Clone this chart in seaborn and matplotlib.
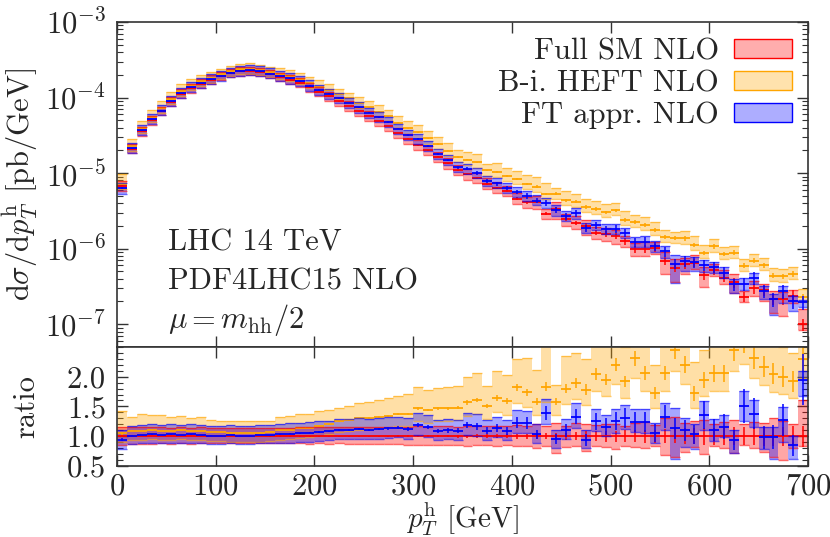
import numpy as np
import matplotlib
matplotlib.use("Agg")
import matplotlib.pyplot as plt
from matplotlib.patches import Patch
from matplotlib.ticker import LogLocator, MultipleLocator, NullFormatter, FormatStrFormatter
import seaborn as sns

# bins of 10 GeV in pT^h
bin_edges = np.arange(0, 700, 10)

# Full SM NLO central value [pb/GeV]
sm = [6.8e-6, 2.1e-5, 3.6e-5, 5.0e-5, 6.6e-5, 8.8e-5, 1.12e-4, 1.34e-4, 1.53e-4, 1.72e-4,
      1.92e-4, 2.10e-4, 2.22e-4, 2.26e-4, 2.18e-4, 2.04e-4, 1.88e-4, 1.72e-4, 1.56e-4, 1.36e-4,
      1.19e-4, 1.04e-4, 8.9e-5, 7.7e-5, 6.6e-5, 5.7e-5, 4.9e-5, 4.2e-5, 3.4e-5, 2.85e-5,
      2.35e-5, 2.0e-5, 1.65e-5, 1.35e-5, 1.1e-5, 9.6e-6, 8.6e-6, 7.2e-6, 6.4e-6, 5.8e-6,
      4.6e-6, 4.1e-6, 4.2e-6, 2.9e-6, 3.4e-6, 2.45e-6, 2.2e-6, 2.0e-6, 1.63e-6, 1.55e-6,
      1.47e-6, 1.25e-6, 9.8e-7, 1.0e-6, 1.03e-6, 6.9e-7, 5.6e-7, 6.2e-7, 6.5e-7, 4.5e-7,
      5.2e-7, 4.15e-7, 3.6e-7, 2.3e-7, 3.0e-7, 2.8e-7, 2.15e-7, 2.15e-7, 2.4e-7, 1.0e-7]

# scale bands and stat errors, all relative to the Full SM central value
sm_lo = [0.86, 0.87, 0.87, 0.87, 0.88, 0.87, 0.88, 0.87, 0.88, 0.88,
         0.88, 0.88, 0.88, 0.88, 0.88, 0.88, 0.88, 0.88, 0.88, 0.87,
         0.88, 0.87, 0.88, 0.87, 0.87, 0.87, 0.87, 0.87, 0.87, 0.86,
         0.86, 0.86, 0.86, 0.85, 0.86, 0.84, 0.85, 0.85, 0.84, 0.85,
         0.84, 0.84, 0.80, 0.84, 0.72, 0.82, 0.84, 0.75, 0.83, 0.82,
         0.78, 0.84, 0.82, 0.80, 0.83, 0.68, 0.65, 0.74, 0.82, 0.70,
         0.84, 0.81, 0.72, 0.86, 0.80, 0.73, 0.65, 0.60, 0.80, 0.84]
sm_hi = [1.16, 1.15, 1.15, 1.15, 1.15, 1.14, 1.15, 1.14, 1.15, 1.14,
         1.14, 1.14, 1.14, 1.14, 1.14, 1.14, 1.14, 1.14, 1.15, 1.15,
         1.15, 1.15, 1.15, 1.16, 1.15, 1.16, 1.16, 1.16, 1.16, 1.16,
         1.17, 1.16, 1.17, 1.17, 1.16, 1.18, 1.17, 1.18, 1.18, 1.17,
         1.19, 1.18, 1.20, 1.17, 1.22, 1.18, 1.22, 1.20, 1.19, 1.20,
         1.21, 1.18, 1.22, 1.24, 1.19, 1.30, 1.32, 1.22, 1.25, 1.28,
         1.20, 1.24, 1.28, 1.20, 1.24, 1.22, 1.30, 1.25, 1.20, 1.60]
sm_stat = [0.02, 0.005, 0.004, 0.004, 0.004, 0.004, 0.004, 0.004, 0.004, 0.004,
           0.004, 0.004, 0.004, 0.004, 0.004, 0.005, 0.005, 0.005, 0.006, 0.006,
           0.007, 0.007, 0.008, 0.009, 0.01, 0.01, 0.011, 0.012, 0.013, 0.014,
           0.015, 0.016, 0.018, 0.02, 0.022, 0.025, 0.03, 0.03, 0.035, 0.035,
           0.04, 0.045, 0.05, 0.05, 0.06, 0.06, 0.07, 0.08, 0.08, 0.09,
           0.09, 0.10, 0.10, 0.11, 0.11, 0.12, 0.12, 0.13, 0.13, 0.14,
           0.14, 0.14, 0.15, 0.15, 0.15, 0.16, 0.16, 0.16, 0.17, 0.18]

heft_r = [1.05, 1.09, 1.09, 1.10, 1.09, 1.09, 1.10, 1.08, 1.09, 1.07,
          1.07, 1.06, 1.06, 1.06, 1.06, 1.07, 1.10, 1.11, 1.13, 1.14,
          1.17, 1.20, 1.25, 1.27, 1.30, 1.31, 1.33, 1.34, 1.37, 1.37,
          1.47, 1.44, 1.47, 1.47, 1.48, 1.57, 1.61, 1.51, 1.64, 1.59,
          1.82, 1.74, 1.58, 1.83, 1.58, 1.80, 1.89, 1.78, 2.05, 1.95,
          2.20, 1.92, 2.31, 2.06, 1.72, 2.06, 2.45, 2.20, 1.72, 1.95,
          2.06, 2.06, 2.45, 2.60, 2.31, 2.17, 2.05, 2.00, 1.92, 2.30]
heft_lo = [0.90, 0.94, 0.94, 0.95, 0.94, 0.94, 0.95, 0.93, 0.94, 0.92,
           0.92, 0.91, 0.91, 0.91, 0.91, 0.92, 0.94, 0.95, 0.97, 0.98,
           1.00, 1.03, 1.07, 1.09, 1.11, 1.12, 1.14, 1.15, 1.17, 1.17,
           1.26, 1.23, 1.26, 1.26, 1.27, 1.34, 1.38, 1.29, 1.40, 1.36,
           1.56, 1.49, 1.35, 1.57, 1.35, 1.54, 1.62, 1.52, 1.76, 1.67,
           1.88, 1.64, 1.98, 1.76, 1.47, 1.76, 2.10, 1.88, 1.47, 1.67,
           1.76, 1.76, 2.10, 2.22, 1.98, 1.86, 1.75, 1.71, 1.64, 1.97]
heft_hi = [1.42, 1.33, 1.38, 1.35, 1.36, 1.33, 1.34, 1.30, 1.32, 1.27,
           1.26, 1.26, 1.25, 1.25, 1.25, 1.26, 1.33, 1.34, 1.37, 1.38,
           1.42, 1.44, 1.48, 1.50, 1.55, 1.57, 1.61, 1.65, 1.68, 1.71,
           1.83, 1.78, 1.81, 1.83, 1.85, 1.99, 2.06, 1.84, 2.10, 2.03,
           2.29, 2.31, 2.12, 2.55, 1.86, 2.34, 2.40, 2.30, 2.60, 2.55,
           2.70, 2.50, 2.85, 2.60, 2.20, 2.60, 3.00, 2.75, 2.25, 2.45,
           2.60, 2.55, 3.00, 3.20, 2.85, 2.70, 2.55, 2.50, 2.40, 2.90]
heft_stat = [0.02, 0.006, 0.005, 0.005, 0.005, 0.005, 0.005, 0.005, 0.005, 0.005,
             0.005, 0.005, 0.005, 0.005, 0.005, 0.006, 0.006, 0.007, 0.007, 0.008,
             0.008, 0.009, 0.010, 0.010, 0.011, 0.012, 0.013, 0.013, 0.014, 0.015,
             0.016, 0.017, 0.018, 0.019, 0.020, 0.025, 0.025, 0.025, 0.03, 0.03,
             0.035, 0.035, 0.04, 0.04, 0.04, 0.045, 0.045, 0.05, 0.05, 0.05,
             0.05, 0.05, 0.055, 0.06, 0.06, 0.06, 0.06, 0.065, 0.07, 0.07,
             0.07, 0.07, 0.075, 0.08, 0.08, 0.08, 0.085, 0.09, 0.09, 0.09]

ft_r = [0.94, 1.01, 1.02, 1.03, 1.02, 1.03, 1.02, 1.03, 1.02, 1.01,
        1.01, 1.02, 1.01, 1.01, 1.02, 1.02, 1.03, 1.04, 1.05, 1.06,
        1.07, 1.08, 1.10, 1.10, 1.12, 1.10, 1.12, 1.13, 1.14, 1.12,
        1.19, 1.15, 1.09, 1.10, 1.09, 1.19, 1.17, 1.09, 1.14, 1.09,
        1.23, 1.22, 1.03, 1.39, 0.95, 1.10, 1.33, 0.94, 1.25, 1.16,
        1.25, 1.30, 1.24, 1.24, 1.05, 1.33, 1.13, 1.10, 1.03, 1.36,
        1.10, 1.16, 0.94, 1.50, 1.38, 0.98, 0.99, 1.27, 0.85, 1.95]
ft_lo = [0.79, 0.87, 0.88, 0.89, 0.88, 0.89, 0.88, 0.89, 0.88, 0.87,
         0.87, 0.88, 0.87, 0.87, 0.88, 0.88, 0.89, 0.89, 0.90, 0.91,
         0.92, 0.93, 0.95, 0.95, 0.96, 0.95, 0.96, 0.97, 0.98, 0.96,
         1.02, 0.99, 0.94, 0.95, 0.94, 1.02, 1.01, 0.94, 0.98, 0.94,
         1.06, 1.05, 0.89, 1.20, 0.80, 0.95, 1.14, 0.80, 1.08, 1.00,
         1.06, 1.12, 1.07, 1.05, 0.88, 1.10, 0.62, 0.82, 0.78, 1.10,
         0.92, 0.98, 0.72, 1.25, 1.15, 0.78, 0.62, 0.90, 0.62, 1.68]
ft_hi = [1.10, 1.18, 1.19, 1.20, 1.19, 1.20, 1.19, 1.20, 1.19, 1.18,
         1.18, 1.19, 1.18, 1.18, 1.19, 1.19, 1.20, 1.22, 1.23, 1.24,
         1.25, 1.26, 1.29, 1.29, 1.31, 1.29, 1.31, 1.32, 1.33, 1.31,
         1.39, 1.35, 1.28, 1.29, 1.28, 1.39, 1.37, 1.28, 1.33, 1.28,
         1.44, 1.43, 1.21, 1.63, 1.11, 1.29, 1.56, 1.10, 1.46, 1.36,
         1.46, 1.52, 1.45, 1.45, 1.23, 1.56, 1.48, 1.30, 1.21, 1.59,
         1.29, 1.36, 1.10, 1.76, 1.61, 1.15, 1.16, 1.49, 1.00, 2.10]
ft_stat = [0.03, 0.008, 0.006, 0.006, 0.006, 0.006, 0.006, 0.006, 0.006, 0.006,
           0.006, 0.006, 0.006, 0.006, 0.007, 0.007, 0.008, 0.008, 0.009, 0.01,
           0.011, 0.012, 0.013, 0.014, 0.015, 0.016, 0.018, 0.02, 0.022, 0.025,
           0.028, 0.03, 0.032, 0.035, 0.04, 0.045, 0.05, 0.055, 0.06, 0.065,
           0.07, 0.08, 0.08, 0.09, 0.09, 0.10, 0.10, 0.11, 0.11, 0.12,
           0.12, 0.13, 0.13, 0.14, 0.14, 0.15, 0.15, 0.16, 0.16, 0.17,
           0.17, 0.18, 0.18, 0.19, 0.19, 0.20, 0.20, 0.21, 0.21, 0.22]

labels = ["Full SM NLO", "B-i. HEFT NLO", "FT appr. NLO"]
colors = ["#ff0000", "#ffa500", "#0000ff"]

sns.set_style("ticks")
plt.rcParams.update({
    "font.family": "cmr10",
    "mathtext.fontset": "cm",
    "axes.formatter.use_mathtext": True,
    "axes.unicode_minus": False,
    "font.size": 22,
    "axes.edgecolor": "#333333",
    "axes.linewidth": 1.2,
})

sm = np.array(sm)
ones = np.ones_like(sm)
series = [
    # (label, colour, ratio, lo, hi, stat) -- drawn orange, red, blue
    (labels[1], colors[1], np.array(heft_r), np.array(heft_lo), np.array(heft_hi), np.array(heft_stat)),
    (labels[0], colors[0], ones, np.array(sm_lo), np.array(sm_hi), np.array(sm_stat)),
    (labels[2], colors[2], np.array(ft_r), np.array(ft_lo), np.array(ft_hi), np.array(ft_stat)),
]

fig = plt.figure(figsize=(8.3, 5.37), dpi=100)
ax = fig.add_axes([0.141, 0.354, 0.8325, 0.605])
axr = fig.add_axes([0.141, 0.1322, 0.8325, 0.2218], sharex=ax)

mid = bin_edges + 5
right = bin_edges + 10


def draw(a, norm, r, lo, hi, stat, col):
    cen = norm * r
    blo = norm * lo
    bhi = norm * hi
    a.bar(bin_edges, bhi - blo, bottom=blo, width=10, align="edge",
          color=col, alpha=0.35, linewidth=0)
    a.hlines(blo, bin_edges, right, color=col, lw=1.0, alpha=0.6)
    a.hlines(bhi, bin_edges, right, color=col, lw=1.0, alpha=0.6)
    a.hlines(cen, bin_edges, right, color=col, lw=1.3)
    a.errorbar(mid, cen, yerr=cen * stat, fmt="none", ecolor=col, elinewidth=1.1)


for lab, col, r, lo, hi, st in series:
    draw(ax, sm, r, lo, hi, st, col)
    draw(axr, ones, r, lo, hi, st, col)

# top panel
ax.set_yscale("log")
ax.set_xlim(0, 700)
ax.set_ylim(10 ** -7.3, 1e-3)
ax.yaxis.set_major_locator(LogLocator(base=10, numticks=10))
ax.yaxis.set_minor_locator(LogLocator(base=10, subs=np.arange(2, 10), numticks=20))
ax.yaxis.set_minor_formatter(NullFormatter())
ax.set_ylabel(r"d$\sigma$/d$p_T^{\mathrm{h}}$ [pb/GeV]")
ax.yaxis.set_label_coords(-0.111, 0.5)
ax.tick_params(labelbottom=False)

ax.text(0.074, 0.32, "LHC 14 TeV", transform=ax.transAxes, va="center")
ax.text(0.074, 0.20, "PDF4LHC15 NLO", transform=ax.transAxes, va="center")
ax.text(0.074, 0.083, r"$\mu = m_{\mathrm{hh}}/2$", transform=ax.transAxes, va="center")

handles = [Patch(facecolor=matplotlib.colors.to_rgba(c, 0.32), edgecolor=c, lw=1.0) for c in colors]
ax.legend(handles, labels, loc="upper right", frameon=False, markerfirst=False,
          handlelength=1.9, handleheight=0.55, labelspacing=0.15, handletextpad=0.5,
          borderaxespad=0.12)

# ratio panel
axr.set_ylim(0.5, 2.5)
axr.set_yticks([0.5, 1.0, 1.5, 2.0])
axr.yaxis.set_major_formatter(FormatStrFormatter("%.1f"))
axr.yaxis.set_minor_locator(MultipleLocator(0.1))
axr.xaxis.set_major_locator(MultipleLocator(100))
axr.set_ylabel("ratio")
axr.yaxis.set_label_coords(-0.111, 0.5)
axr.set_xlabel(r"$p_T^{\mathrm{h}}$ [GeV]", fontsize=21)
axr.xaxis.set_label_coords(0.5, -0.295)

for a in (ax, axr):
    a.tick_params(which="both", direction="in", top=True, right=True, color="#333333")
    a.tick_params(which="major", length=8, width=1.0, pad=8)
    a.tick_params(which="minor", length=4, width=0.8)
axr.tick_params(axis="x", which="major", pad=5)

fig.savefig("out.png", dpi=100)
